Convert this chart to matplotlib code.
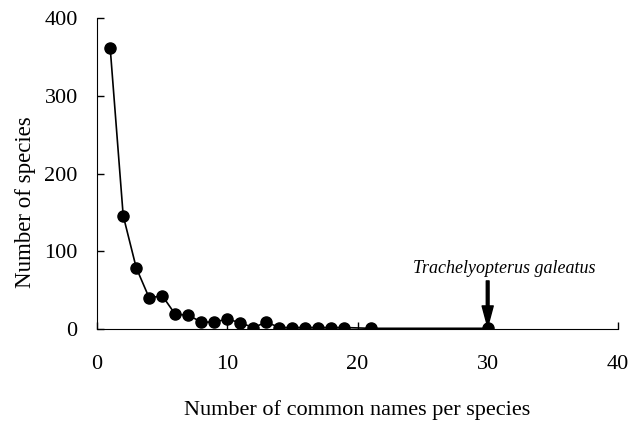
import matplotlib.pyplot as plt

# number of common names per species vs number of species
names_per_species = [1, 2, 3, 4, 5, 6, 7, 8, 9, 10, 11, 12, 13, 14, 15, 16, 17, 18, 19, 21, 30]
n_species = [362, 146, 79, 40, 43, 19, 18, 9, 9, 13, 8, 2, 9, 2, 2, 2, 2, 2, 2, 1, 1]

plt.rcParams['font.family'] = ['Liberation Serif', 'DejaVu Serif']

fig = plt.figure(figsize=(6.35, 4.23), dpi=100)
ax = fig.add_axes([0.153, 0.222, 0.82, 0.735])

ax.plot(names_per_species, n_species, color='black', lw=1.2,
        marker='o', markersize=8, markerfacecolor='black', markeredgecolor='black')

ax.set_xlim(0, 40)
ax.set_ylim(0, 400)
ax.set_xticks([0, 10, 20, 30, 40])
ax.set_yticks([0, 100, 200, 300, 400])
ax.tick_params(direction='in', length=5, width=1, labelsize=16)
ax.tick_params(axis='x', pad=19)
ax.tick_params(axis='y', pad=14)
ax.spines['top'].set_visible(False)
ax.spines['right'].set_visible(False)

ax.set_xlabel('Number of common names per species', fontsize=16)
ax.xaxis.set_label_coords(0.5, -0.228)
ax.set_ylabel('Number of species', fontsize=16.5)
ax.yaxis.set_label_coords(-0.118, 0.408)

# species label and arrow to the point at x=30
ax.text(31.3, 72, 'Trachelyopterus galeatus', ha='center', va='baseline',
        fontsize=13, style='italic')
ax.annotate('', xy=(30, 3), xytext=(30, 62),
            arrowprops=dict(facecolor='black', edgecolor='black', width=2,
                            headwidth=8, headlength=15, shrink=0))

fig.savefig('out.png', dpi=100)
